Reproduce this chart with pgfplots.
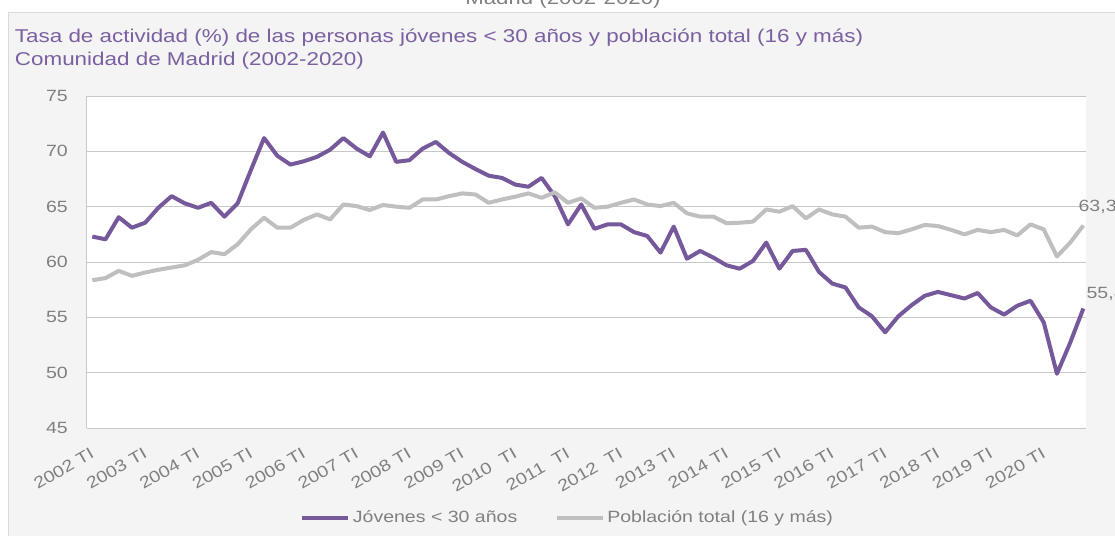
\documentclass[border=0pt]{standalone}
\usepackage{fontspec}
\setmainfont{Liberation Sans}[FakeStretch=1.2]
\newfontfamily\titlefont{Liberation Sans}[FakeStretch=1.21]
\usepackage{pgfplots}
\pgfplotsset{compat=1.18}
\usepackage{pgfplotstable}
\definecolor{jpurple}{RGB}{118,89,154}
\definecolor{tpurple}{RGB}{122,96,160}
\definecolor{pgray}{RGB}{191,191,191}
\definecolor{gridgray}{RGB}{200,200,200}
\definecolor{txtgray}{RGB}{128,128,128}
\definecolor{panel}{RGB}{244,244,244}
\definecolor{panelborder}{RGB}{217,217,217}

\pgfplotstableread{
i J P
0 62.3 58.35
1 62.05 58.55
2 64.05 59.2
3 63.1 58.75
4 63.55 59.05
5 64.9 59.3
6 65.95 59.5
7 65.3 59.7
8 64.9 60.2
9 65.35 60.9
10 64.1 60.7
11 65.3 61.6
12 68.3 62.95
13 71.2 64.0
14 69.6 63.1
15 68.8 63.1
16 69.1 63.8
17 69.5 64.3
18 70.15 63.85
19 71.2 65.2
20 70.25 65.05
21 69.55 64.7
22 71.7 65.15
23 69.05 65.0
24 69.2 64.9
25 70.25 65.65
26 70.85 65.65
27 69.85 65.95
28 69.05 66.2
29 68.4 66.1
30 67.8 65.35
31 67.6 65.65
32 67.0 65.9
33 66.8 66.2
34 67.6 65.8
35 65.95 66.3
36 63.4 65.35
37 65.2 65.75
38 63.0 64.9
39 63.4 65.0
40 63.4 65.35
41 62.7 65.65
42 62.35 65.2
43 60.85 65.05
44 63.2 65.35
45 60.3 64.4
46 61.0 64.1
47 60.4 64.1
48 59.7 63.5
49 59.4 63.55
50 60.1 63.65
51 61.75 64.75
52 59.4 64.55
53 61.0 65.05
54 61.1 63.95
55 59.1 64.75
56 58.05 64.3
57 57.7 64.1
58 55.9 63.1
59 55.1 63.2
60 53.65 62.7
61 55.1 62.6
62 56.1 62.95
63 56.95 63.35
64 57.3 63.25
65 57.0 62.9
66 56.7 62.5
67 57.2 62.9
68 55.9 62.7
69 55.25 62.9
70 56.05 62.4
71 56.5 63.4
72 54.55 62.95
73 49.9 60.5
74 52.7 61.75
75 55.8 63.3
}\data

\begin{document}
\begin{tikzpicture}
\useasboundingbox (0,0) rectangle (836.25pt,-402pt);
\fill[panel] (6pt,-9pt) rectangle (836.25pt,-402pt);
\draw[panelborder, line width=0.75pt] (6pt,-402pt) -- (6pt,-9pt) -- (836.25pt,-9pt);
\node[anchor=base west, inner sep=0pt, text=txtgray, font=\fontsize{13.9}{16}\selectfont] at (348.75pt,-3pt) {Madrid (2002-2020)};
\node[anchor=base west, inner sep=0pt, text=tpurple, font=\titlefont\fontsize{13.9}{16}\selectfont] at (11pt,-31.5pt) {Tasa de actividad (\%) de las personas jóvenes < 30 años y población total (16 y más)};
\node[anchor=base west, inner sep=0pt, text=tpurple, font=\titlefont\fontsize{13.9}{16}\selectfont] at (11pt,-48.75pt) {Comunidad de Madrid (2002-2020)};
\begin{axis}[
  at={(65.25pt,-321pt)}, anchor=south west,
  scale only axis, width=749.25pt, height=249pt,
  xmin=-0.4, xmax=75.2, ymin=45, ymax=75,
  ytick={45,50,...,75},
  xtick={0,4,...,72},
  xticklabels={2002 TI,2003 TI,2004 TI,2005 TI,2006 TI,2007 TI,2008 TI,2009 TI,2010\ \ TI,2011\ \ TI,2012\ \ TI,2013 TI,2014 TI,2015 TI,2016 TI,2017 TI,2018 TI,2019 TI,2020 TI},
  ymajorgrids, grid style={gridgray, line width=0.75pt},
  axis x line*=bottom, axis y line*=left,
  axis line style={gridgray, line width=0.75pt},
  major tick length=0pt,
  tick label style={font=\fontsize{12.2}{14}\selectfont, text=txtgray},
  /pgf/number format/assume math mode=true,
  yticklabel style={anchor=east, inner sep=0pt, xshift=-14.25pt},
  xticklabel style={xshift=-2pt, yshift=-14pt, rotate=30, anchor=north east, inner sep=0pt},
  axis background/.style={fill=white},
  legend columns=2,
  legend style={at={(0.2132,-0.27)}, anchor=west, draw=none, fill=none, inner sep=0pt,
    nodes={inner sep=2pt}, font=\fontsize{12.2}{14}\selectfont, text=txtgray,
    /tikz/every even column/.append style={column sep=26pt}},
  legend image code/.code={\draw[#1] (0pt,0pt) -- (34.5pt,0pt);},
  clip=false,
]
\addplot[jpurple, line width=3pt, line join=round] table[x=i, y=J] {\data};
\addlegendentry{Jóvenes < 30 años}
\addplot[pgray, line width=3pt, line join=round] table[x=i, y=P] {\data};
\addlegendentry{Población total (16 y más)}
\node[anchor=base west, inner sep=0pt, text=txtgray, font=\fontsize{12.2}{14}\selectfont, xshift=-3.75pt, yshift=10.3pt] at (axis cs:75,63.3) {63,3};
\node[anchor=base west, inner sep=0pt, text=txtgray, font=\fontsize{12.2}{14}\selectfont, xshift=2.25pt, yshift=7.5pt] at (axis cs:75,55.8) {55,8};
\end{axis}
\end{tikzpicture}
\end{document}
